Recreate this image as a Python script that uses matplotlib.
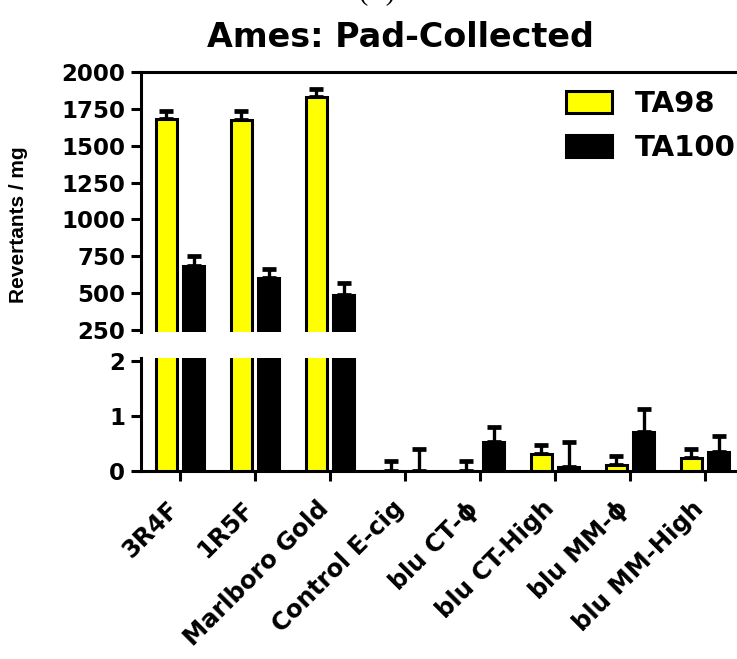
import matplotlib
matplotlib.use("Agg")
import matplotlib.pyplot as plt
import numpy as np

# ---------------------------------- #
# --------------DATA---------------- #
# ---------------------------------- #

categories = ['3R4F', '1R5F', 'Marlboro Gold', 'Control E-cig',
              r'blu CT-$\mathrm{\phi}$', 'blu CT-High',
              r'blu MM-$\mathrm{\phi}$', 'blu MM-High']
ta98 = [1680, 1675, 1830, 0.0, 0.0, 0.31, 0.11, 0.24]
ta98_err = [55, 60, 55, 0.18, 0.18, 0.16, 0.16, 0.16]
ta100 = [685, 605, 490, 0.0, 0.53, 0.07, 0.71, 0.35]
ta100_err = [65, 57, 80, 0.40, 0.27, 0.46, 0.42, 0.29]
top_ticks = [250, 500, 750, 1000, 1250, 1500, 1750, 2000]
bottom_ticks = [0, 1, 2]

YELLOW = '#ffff00'
LW = 2.2

plt.rcParams['font.family'] = ['DejaVu Sans']
plt.rcParams['font.weight'] = 'bold'
plt.rcParams['mathtext.fontset'] = 'dejavusans'

fig = plt.figure(figsize=(7.37, 6.59), dpi=100)
W, H = 737.0, 659.0
left = 141 / W
# broken y axis: two stacked axes
ax_top = fig.add_axes([left, 1 - 332 / H, 1 - left, (332 - 72) / H])
ax_bot = fig.add_axes([left, 1 - 471 / H, 1 - left, (471 - 358) / H])

x = np.arange(len(categories))
off = 0.185
width = 0.28

for ax in (ax_top, ax_bot):
    ax.bar(x - off, ta98, width, color=YELLOW, edgecolor='black', linewidth=2.2,
           label='TA98', zorder=3)
    ax.bar(x + off, ta100, width, color='black', edgecolor='black', linewidth=2.2,
           label='TA100', zorder=3)
    # upward error bars only
    ax.errorbar(x - off, ta98, yerr=[np.zeros(len(x)), ta98_err], fmt='none',
                ecolor='black', elinewidth=2.4, capsize=4.7, capthick=3.4, zorder=2)
    ax.errorbar(x + off, ta100, yerr=[np.zeros(len(x)), ta100_err], fmt='none',
                ecolor='black', elinewidth=2.4, capsize=4.7, capthick=3.4, zorder=2)
    ax.set_xlim(-0.52, 7.427)
    ax.spines['right'].set_visible(False)
    for s in ax.spines.values():
        s.set_linewidth(LW)
    ax.tick_params(axis='y', direction='out', length=7, width=LW, labelsize=16.5, pad=4.3)

# Top panel
ax_top.set_ylim(237, 2000)
ax_top.set_yticks(top_ticks)
ax_top.spines['bottom'].set_visible(False)
ax_top.tick_params(axis='x', bottom=False, labelbottom=False)
for lab in ax_top.get_yticklabels():
    lab.set_fontweight('bold')

# Bottom panel
ax_bot.set_ylim(0, 2.05)
ax_bot.set_yticks(bottom_ticks)
ax_bot.spines['top'].set_visible(False)
ax_bot.set_xticks(x)
ax_bot.set_xticklabels(categories, rotation=45, ha='right', va='baseline',
                       rotation_mode='anchor', fontsize=17.5, fontweight='bold')
ax_bot.tick_params(axis='x', direction='out', length=7, width=LW, pad=21)
for lab in ax_bot.get_yticklabels():
    lab.set_fontweight('bold')

# Legend
handles, labels = ax_top.get_legend_handles_labels()
leg = fig.legend(handles, labels, loc='upper left', bbox_to_anchor=(566 / W, 1 - 90 / H),
                 frameon=False, fontsize=21, handlelength=1.58, handleheight=0.75,
                 handletextpad=0.79, labelspacing=0.55, borderpad=0, borderaxespad=0)
for t in leg.get_texts():
    t.set_fontweight('bold')

# Titles and labels
fig.text(400 / W, 1 - 47 / H, 'Ames: Pad-Collected', ha='center', va='baseline',
         fontsize=24, fontweight='bold')
fig.text(377 / W, 1 - 6 / H, '(C)', ha='center', va='bottom', fontsize=20,
         fontweight='normal', family='Liberation Serif')
fig.text(19 / W, 1 - 225 / H, 'Revertants / mg', rotation=90, ha='center', va='center',
         fontsize=15, fontweight='bold', family='Liberation Sans')

fig.savefig('out.png', dpi=100)
plt.close()
